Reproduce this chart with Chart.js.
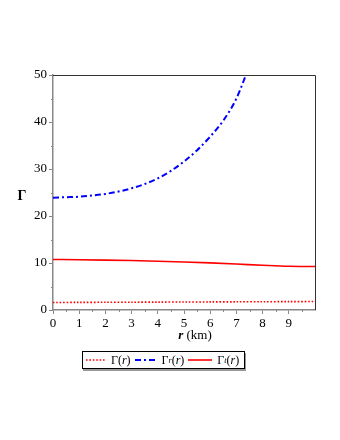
<!DOCTYPE html>
<html>
<head>
<meta charset="utf-8">
<script src="https://cdn.jsdelivr.net/npm/chart.js@4/dist/chart.umd.min.js"></script>
<style>
  html, body { margin: 0; padding: 0; background: #fff; }
  #wrap { position: relative; width: 340px; height: 440px; }
  #legenda {
    position: absolute; left: 82px; top: 351px; height: 16px;
    border: 1px solid #000; box-shadow: 1px 2px 0 #999;
    font-family: "Liberation Serif", serif; font-size: 12px;
    display: flex; align-items: center; padding: 0 2px; white-space: nowrap; background: #fff;
  }
  #legenda span.item { display: inline-flex; align-items: center; margin-right: 3px; }
  #legenda svg { margin-right: 4px; }
  #legenda i { font-style: italic; }
  #legenda sub { font-size: 8px; font-style: italic; vertical-align: -2px; }
</style>
</head>
<body>
<div id="wrap">
  <canvas id="grafico" width="340" height="440"></canvas>
  <div id="legenda"></div>
</div>
<script>
// Dados
const raios = [0, 0.5, 1, 1.5, 2, 2.5, 3, 3.5, 4, 4.5, 5, 5.5, 6, 6.5, 7, 7.5];
const gamaR = [23.9, 24.0, 24.1, 24.35, 24.7, 25.2, 25.9, 26.8, 28.0, 29.6, 31.6, 34.0, 36.9, 40.3, 45.0, 52.0];

const raiosT = [0, 1, 2, 3, 4, 5, 6, 7, 8, 9, 10];
const gamaT = [10.75, 10.7, 10.62, 10.52, 10.38, 10.22, 10.02, 9.78, 9.52, 9.3, 9.25];
const gama = [1.6, 1.62, 1.64, 1.66, 1.68, 1.7, 1.72, 1.74, 1.76, 1.78, 1.8];

const ticksX = [0, 1, 2, 3, 4, 5, 6, 7, 8, 9];
const ticksY = [0, 10, 20, 30, 40, 50];

const fonteSerif = "Liberation Serif";

function pontos(xs, ys) {
  return xs.map((x, i) => ({ x: x, y: ys[i] }));
}

// desenha moldura, ticks menores e títulos dos eixos
const molduraPlugin = {
  id: "moldura",
  afterDraw(chart) {
    const { ctx, chartArea: a, scales } = chart;
    ctx.save();
    ctx.strokeStyle = "#333";
    ctx.lineWidth = 1;
    ctx.beginPath();
    ctx.moveTo(a.left, a.top + 0.5);
    ctx.lineTo(a.right + 0.5, a.top + 0.5);
    ctx.lineTo(a.right + 0.5, a.bottom);
    ctx.stroke();

    // ticks menores
    ctx.strokeStyle = "#888";
    ctx.beginPath();
    for (let v = 0.5; v < 10; v += 1) {
      const px = Math.round(scales.x.getPixelForValue(v)) + 0.5;
      ctx.moveTo(px, a.bottom);
      ctx.lineTo(px, a.bottom + 2);
    }
    for (let v = 5; v < 50; v += 10) {
      const py = Math.round(scales.y.getPixelForValue(v)) + 0.5;
      ctx.moveTo(a.left, py);
      ctx.lineTo(a.left - 2, py);
    }
    ctx.stroke();

    ctx.fillStyle = "#000";
    ctx.textBaseline = "middle";
    ctx.font = "bold 14px '" + fonteSerif + "'";
    ctx.textAlign = "center";
    ctx.fillText("\u0393", 22, (a.top + a.bottom) / 2 + 4);

    const cx = (a.left + a.right) / 2;
    ctx.font = "italic bold 13px '" + fonteSerif + "'";
    ctx.textAlign = "left";
    const w1 = ctx.measureText("r").width;
    ctx.font = "13px '" + fonteSerif + "'";
    const w2 = ctx.measureText(" (km)").width;
    const x0 = cx - (w1 + w2) / 2 + 11;
    ctx.font = "italic bold 13px '" + fonteSerif + "'";
    ctx.fillText("r", x0, a.bottom + 26);
    ctx.font = "13px '" + fonteSerif + "'";
    ctx.fillText(" (km)", x0 + w1, a.bottom + 26);
    ctx.restore();
  }
};

const ctx = document.getElementById("grafico").getContext("2d");
const grafico = new Chart(ctx, {
  type: "line",
  data: {
    datasets: [
      {
        label: "\u0393(r)",
        data: pontos(raiosT, gama),
        borderColor: "#ff0000",
        borderWidth: 1.6,
        borderDash: [1.6, 1.8],
        pointRadius: 0,
        tension: 0.3
      },
      {
        label: "\u0393r(r)",
        data: pontos(raios, gamaR),
        borderColor: "#0000ff",
        borderWidth: 2,
        borderDash: [6, 3, 2, 3],
        pointRadius: 0,
        cubicInterpolationMode: "monotone"
      },
      {
        label: "\u0393t(r)",
        data: pontos(raiosT, gamaT),
        borderColor: "#ff0000",
        borderWidth: 1.6,
        pointRadius: 0,
        cubicInterpolationMode: "monotone"
      }
    ]
  },
  options: {
    responsive: false,
    animation: false,
    layout: { padding: { left: 0, top: 75, right: 25, bottom: 100 } },
    plugins: { legend: { display: false }, tooltip: { enabled: false } },
    scales: {
      x: {
        type: "linear",
        min: 0,
        max: 10,
        afterBuildTicks(s) { s.ticks = ticksX.map(v => ({ value: v })); },
        afterFit(s) { s.height = 30; },
        border: { color: "#888", width: 1.5 },
        grid: { drawOnChartArea: false, tickLength: 4, color: "#888" },
        ticks: { color: "#000", padding: 2, maxRotation: 0, font: { family: fonteSerif, size: 13 } }
      },
      y: {
        min: 0,
        max: 50,
        afterBuildTicks(s) { s.ticks = ticksY.map(v => ({ value: v })); },
        afterFit(s) { s.width = 53; },
        border: { color: "#888", width: 1.5 },
        grid: { drawOnChartArea: false, tickLength: 4, color: "#888" },
        ticks: { color: "#000", padding: 2, font: { family: fonteSerif, size: 13 } }
      }
    }
  },
  plugins: [molduraPlugin]
});

// legenda em HTML (com subscritos)
const largAmostra = [22, 24, 26];
function amostra(ds, larg) {
  const dash = ds.borderDash ? ds.borderDash.join(",") : "none";
  return `<svg width="${larg}" height="6"><line x1="1" y1="3" x2="${larg - 1}" y2="3" stroke="${ds.borderColor}" stroke-width="${ds.borderWidth}" stroke-dasharray="${dash}"/></svg>`;
}
const rotulos = ["\u0393(<i>r</i>)", "\u0393<sub>r</sub>(<i>r</i>)", "\u0393<sub>t</sub>(<i>r</i>)"];
document.getElementById("legenda").innerHTML = grafico.data.datasets
  .map((ds, i) => `<span class="item">${amostra(ds, largAmostra[i])}${rotulos[i]}</span>`)
  .join("");
</script>
</body>
</html>
